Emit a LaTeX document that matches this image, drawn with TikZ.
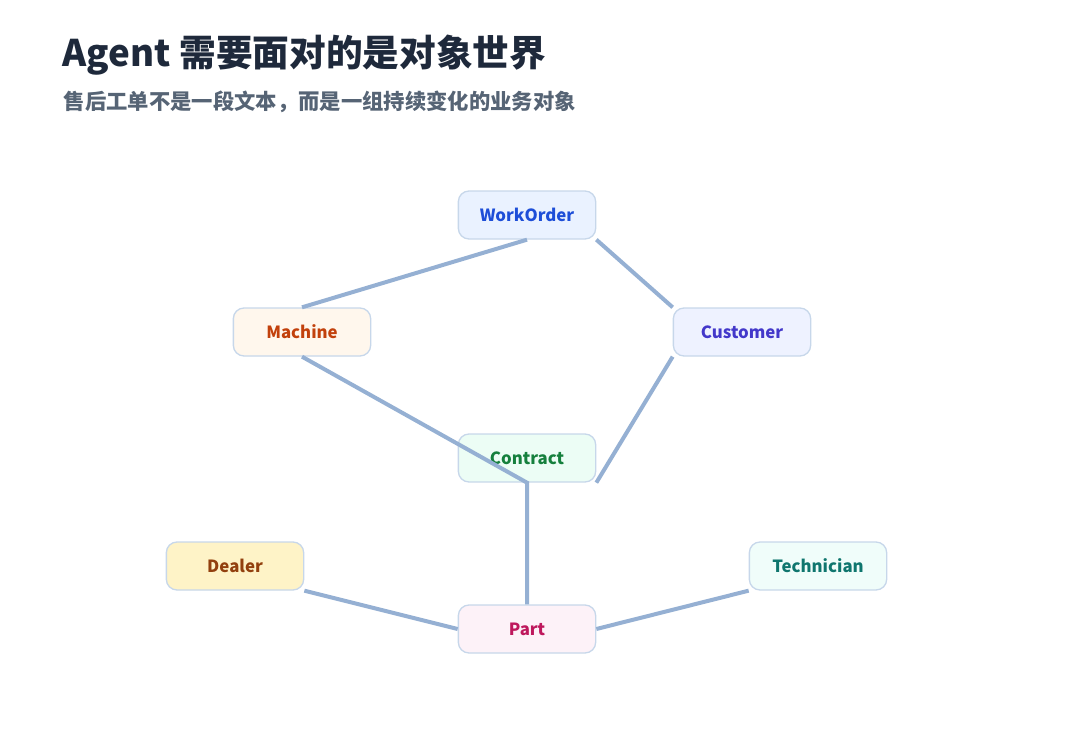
\documentclass[tikz,border=0pt]{standalone}
\usepackage{fontspec}
\setmainfont{Noto Sans CJK SC}
\usetikzlibrary{positioning}
\definecolor{edgeblue}{HTML}{95B0D3}
\definecolor{boxline}{HTML}{C7D7EA}
\definecolor{titlecol}{HTML}{1E293B}
\definecolor{subcol}{HTML}{566475}
\definecolor{woFill}{HTML}{EAF2FF}\definecolor{woText}{HTML}{1D4ED8}
\definecolor{maFill}{HTML}{FFF7ED}\definecolor{maText}{HTML}{C2410C}
\definecolor{cuFill}{HTML}{EEF2FF}\definecolor{cuText}{HTML}{4338CA}
\definecolor{coFill}{HTML}{ECFDF5}\definecolor{coText}{HTML}{15803D}
\definecolor{deFill}{HTML}{FEF3C7}\definecolor{deText}{HTML}{92400E}
\definecolor{teFill}{HTML}{F0FDFA}\definecolor{teText}{HTML}{0F766E}
\definecolor{paFill}{HTML}{FDF2F8}\definecolor{paText}{HTML}{BE185D}
\tikzset{
  obj/.style={draw=boxline,line width=1pt,rounded corners=8pt,minimum width=103pt,minimum height=36pt,font=\bfseries\fontsize{12.6}{14}\selectfont},
  link/.style={edgeblue,line width=3pt}
}
\begin{document}
\begin{tikzpicture}[x=0.75pt,y=-0.75pt]
\useasboundingbox (0,0) rectangle (1080,738);

\node[anchor=west,text=titlecol,font=\bfseries\fontsize{27.5}{31}\selectfont] (title) at (58,55) {Agent 需要面对的是对象世界};
\node[anchor=west,text=subcol,font=\bfseries\fontsize{16}{19}\selectfont] (sub) at (59,102) {售后工单不是一段文本，而是一组持续变化的业务对象};

\node[obj,fill=woFill,text=woText] (wo) at (527,215) {WorkOrder};
\node[obj,fill=maFill,text=maText] (mach) at (302,332) {Machine};
\node[obj,fill=cuFill,text=cuText] (cust) at (742,332) {Customer};
\node[obj,fill=coFill,text=coText] (contr) at (527,458) {Contract};
\node[obj,fill=deFill,text=deText] (deal) at (235,566) {Dealer};
\node[obj,fill=teFill,text=teText] (tech) at (818,566) {Technician};
\node[obj,fill=paFill,text=paText] (part) at (527,629) {Part};

\draw[link] (wo.south) -- (mach.north);
\draw[link] (wo.south east) -- (cust.north west);
\draw[link] (mach.south) -- (contr.south) -- (part.north);
\draw[link] (cust.south west) -- (contr.south east);
\draw[link] (deal.south east) -- (part.west);
\draw[link] (part.east) -- (tech.south west);
\end{tikzpicture}
\end{document}
